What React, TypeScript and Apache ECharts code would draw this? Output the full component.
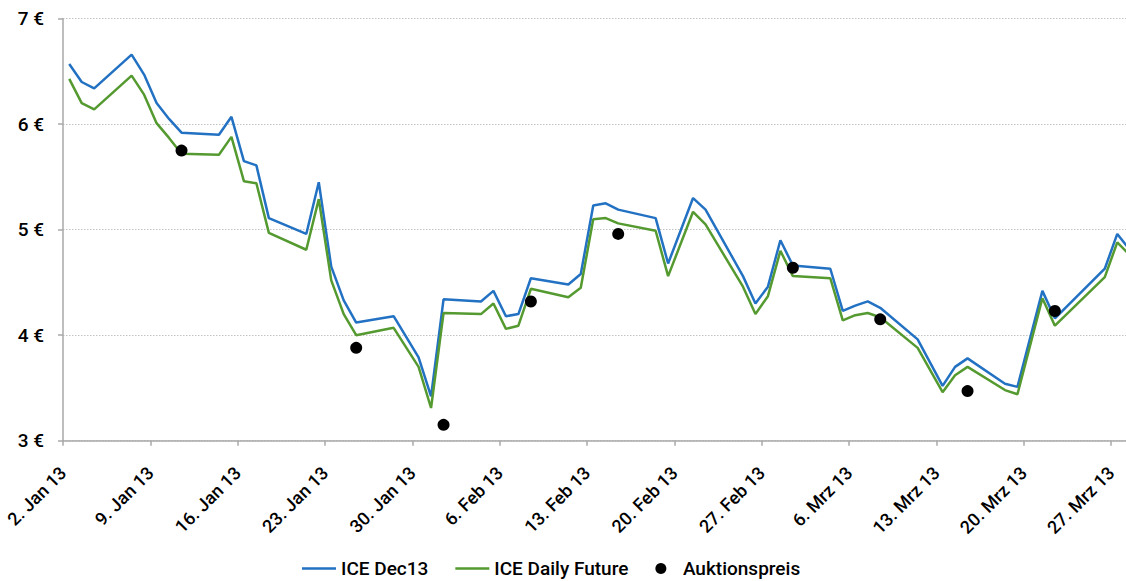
import React, { useEffect, useRef } from "react";
import * as echarts from "echarts";

// Trading days (2013)
const dates: string[] = [
  "2013-01-02", "2013-01-03", "2013-01-04", "2013-01-07", "2013-01-08", "2013-01-09", "2013-01-10", "2013-01-11",
  "2013-01-14", "2013-01-15", "2013-01-16", "2013-01-17", "2013-01-18", "2013-01-21", "2013-01-22", "2013-01-23",
  "2013-01-24", "2013-01-25", "2013-01-28", "2013-01-30", "2013-01-31", "2013-02-01", "2013-02-04", "2013-02-05",
  "2013-02-06", "2013-02-07", "2013-02-08", "2013-02-11", "2013-02-12", "2013-02-13", "2013-02-14", "2013-02-15",
  "2013-02-18", "2013-02-19", "2013-02-21", "2013-02-22", "2013-02-25", "2013-02-26", "2013-02-27", "2013-02-28",
  "2013-03-01", "2013-03-04", "2013-03-05", "2013-03-06", "2013-03-07", "2013-03-08", "2013-03-11", "2013-03-13",
  "2013-03-14", "2013-03-15", "2013-03-18", "2013-03-19", "2013-03-21", "2013-03-22", "2013-03-26", "2013-03-27",
  "2013-03-28",
];

const iceDec13: number[] = [
  6.57, 6.40, 6.34, 6.66, 6.47, 6.20, 6.05, 5.92,
  5.90, 6.07, 5.65, 5.61, 5.11, 4.96, 5.45, 4.65,
  4.33, 4.12, 4.18, 3.79, 3.42, 4.34, 4.32, 4.42,
  4.18, 4.20, 4.54, 4.48, 4.58, 5.23, 5.25, 5.19,
  5.11, 4.68, 5.30, 5.19, 4.56, 4.30, 4.46, 4.90,
  4.66, 4.63, 4.23, 4.28, 4.32, 4.26, 3.96, 3.52,
  3.70, 3.78, 3.54, 3.51, 4.42, 4.16, 4.63, 4.96,
  4.81,
];

const iceDaily: number[] = [
  6.43, 6.20, 6.14, 6.46, 6.28, 6.01, 5.87, 5.72,
  5.71, 5.88, 5.46, 5.44, 4.97, 4.81, 5.29, 4.52,
  4.20, 4.00, 4.07, 3.70, 3.31, 4.21, 4.20, 4.30,
  4.06, 4.09, 4.44, 4.36, 4.45, 5.10, 5.11, 5.06,
  4.99, 4.56, 5.17, 5.05, 4.46, 4.20, 4.37, 4.80,
  4.56, 4.54, 4.14, 4.19, 4.21, 4.17, 3.88, 3.46,
  3.62, 3.70, 3.48, 3.44, 4.35, 4.09, 4.55, 4.88,
  4.76,
];

const auctionDates: string[] = [
  "2013-01-11", "2013-01-25", "2013-02-01", "2013-02-08", "2013-02-15",
  "2013-03-01", "2013-03-08", "2013-03-15", "2013-03-22",
];
const auctionPrices: number[] = [5.75, 3.88, 3.15, 4.32, 4.96, 4.64, 4.15, 3.47, 4.23];

const xTickLabels: string[] = [
  "2. Jan 13", "9. Jan 13", "16. Jan 13", "23. Jan 13", "30. Jan 13", "6. Feb 13", "13. Feb 13",
  "20. Feb 13", "27. Feb 13", "6. Mrz 13", "13. Mrz 13", "20. Mrz 13", "27. Mrz 13",
];

const START = Date.UTC(2013, 0, 2);
const DAY = 86400000;
// position of a date on the day axis (points sit in the middle of their day)
const dayPos = (s: string): number => {
  const [y, m, d] = s.split("-").map(Number);
  return (Date.UTC(y, m - 1, d) - START) / DAY + 0.5;
};

const FONT = "Roboto";
const LINE_ICON = "path://M0,0H100V7H0Z";

export default function App() {
  const ref = useRef<HTMLDivElement>(null);

  useEffect(() => {
    if (!ref.current) return;
    const chart = echarts.init(ref.current, undefined, { renderer: "svg" });
    const axisColor = "#a8a8a8";
    chart.setOption({
      animation: false,
      backgroundColor: "#ffffff",
      textStyle: { fontFamily: FONT },
      grid: { left: 63, right: 0, top: 18.7, bottom: 140.3, containLabel: false },
      legend: {
        top: 554,
        left: 297,
        itemWidth: 34,
        itemHeight: 11,
        itemGap: 27,
        symbolKeepAspect: true,
        textStyle: { fontFamily: FONT, fontSize: 19, fontWeight: 500, color: "#000" },
        data: [
          { name: "ICE Dec13", icon: LINE_ICON },
          { name: "ICE Daily Future", icon: LINE_ICON },
          { name: "Auktionspreis", icon: "circle" },
        ],
      },
      xAxis: {
        type: "value",
        min: 0,
        max: 85.2,
        interval: 7,
        axisLine: { show: true, lineStyle: { color: axisColor, width: 1.5 } },
        axisTick: { show: true, length: 5, lineStyle: { color: axisColor, width: 1.5 } },
        splitLine: { show: false },
        axisLabel: {
          rotate: 45,
          margin: 29,
          fontFamily: FONT,
          fontSize: 18,
          fontWeight: 500,
          color: "#000",
          showMaxLabel: false,
          formatter: (v: number) => {
            const i = Math.round(v / 7);
            if (Math.abs(v - i * 7) > 1e-6) return "";
            return xTickLabels[i] ?? "";
          },
        },
      },
      yAxis: {
        type: "value",
        min: 3,
        max: 7,
        interval: 1,
        axisLine: { show: true, lineStyle: { color: axisColor, width: 1.5 } },
        axisTick: { show: true, length: 5, lineStyle: { color: axisColor, width: 1.5 } },
        splitLine: { show: true, lineStyle: { color: "#c4c4c4", type: [1.5, 1.5], width: 1 } },
        axisLabel: {
          margin: 19,
          fontFamily: FONT,
          fontSize: 19,
          fontWeight: 500,
          color: "#000",
          formatter: (v: number) => `${v} €`,
        },
      },
      series: [
        {
          name: "ICE Dec13",
          type: "line",
          symbol: "none",
          clip: true,
          lineStyle: { color: "#2271c2", width: 2.5 },
          itemStyle: { color: "#2271c2" },
          data: dates.map((d, i) => [dayPos(d), iceDec13[i]]),
        },
        {
          name: "ICE Daily Future",
          type: "line",
          symbol: "none",
          clip: true,
          lineStyle: { color: "#559a30", width: 2.5 },
          itemStyle: { color: "#559a30" },
          data: dates.map((d, i) => [dayPos(d), iceDaily[i]]),
        },
        {
          name: "Auktionspreis",
          type: "scatter",
          symbol: "circle",
          symbolSize: 12,
          z: 5,
          itemStyle: { color: "#000000", opacity: 1 },
          data: auctionDates.map((d, i) => [dayPos(d), auctionPrices[i]]),
        },
      ],
    });
    return () => chart.dispose();
  }, []);

  return (
    <div
      ref={ref}
      style={{ position: "fixed", left: 0, top: 0, width: 1126, height: 581, background: "#fff" }}
    />
  );
}
